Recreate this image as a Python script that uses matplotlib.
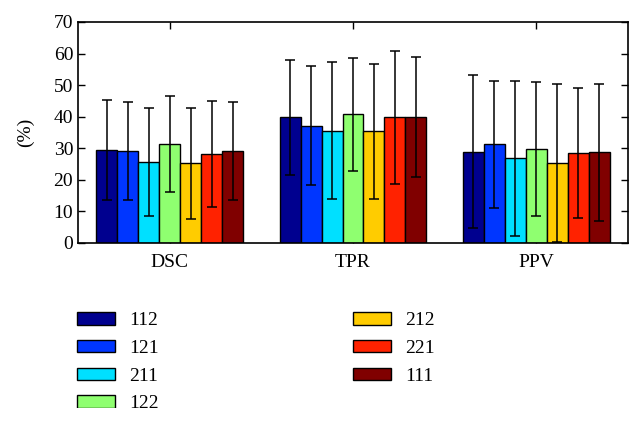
import numpy as np
import matplotlib
matplotlib.use('Agg')
import matplotlib.pyplot as plt
from matplotlib.patches import Rectangle

plt.rcParams['font.family'] = ['Liberation Serif', 'DejaVu Serif']

metrics = ['DSC', 'TPR', 'PPV']
configs = ['112', '121', '211', '122', '212', '221', '111']
colors = ['#00008F', '#0036FF', '#00E0FF', '#8FFF70', '#FFCC00', '#FF2200', '#800000']

# mean values (%) per config, in order DSC, TPR, PPV
means = {
    '112': [29.4, 39.8, 28.9],
    '121': [29.0, 37.2, 31.2],
    '211': [25.6, 35.6, 26.8],
    '122': [31.5, 40.7, 29.7],
    '212': [25.2, 35.4, 25.3],
    '221': [28.2, 39.8, 28.4],
    '111': [29.0, 39.8, 28.7],
}
# standard deviations (%)
stds = {
    '112': [15.8, 18.2, 24.2],
    '121': [15.5, 18.8, 20.1],
    '211': [17.1, 21.7, 24.5],
    '122': [15.2, 17.9, 21.3],
    '212': [17.5, 21.4, 25.0],
    '221': [16.7, 21.1, 20.6],
    '111': [15.5, 19.0, 21.8],
}

fig = plt.figure(figsize=(6.43, 4.22), dpi=100)
ax = fig.add_axes([0.1213, 0.4242, 0.8554, 0.5237])

x = np.arange(1, len(metrics) + 1)
n = len(configs)
group_w = 0.8
w = group_w / n

for i, c in enumerate(configs):
    pos = x - group_w / 2 + w * (i + 0.5)
    ax.bar(pos, means[c], width=w, color=colors[i], edgecolor='black',
           linewidth=1.0, label=c, zorder=2)
    ax.errorbar(pos, means[c], yerr=stds[c], fmt='none', ecolor='black',
                elinewidth=1.1, capsize=3.5, capthick=1.1, zorder=3)

ax.set_xlim(0.5, 3.5)
ax.set_ylim(0, 70)
ax.set_yticks(range(0, 71, 10))
ax.set_xticks(x)
ax.set_xticklabels(metrics)
ax.tick_params(direction='in', length=5, labelsize=14, top=True, right=True,
               width=1.0)
ax.tick_params(axis='x', pad=8)
ax.set_ylabel('(%)', fontsize=14, labelpad=14)
for s in ax.spines.values():
    s.set_linewidth(1.2)

leg = fig.legend(ncol=2, loc='upper left', bbox_to_anchor=(0.105, 0.283),
                 frameon=False, fontsize=14, handlelength=1.95,
                 handleheight=0.6, handletextpad=0.72, labelspacing=0.55,
                 columnspacing=10.0, borderpad=0.0)

# bottom edge of the picture crops the last legend row
fig.patches.append(Rectangle((0, 0), 1, 14 / 422, transform=fig.transFigure,
                             facecolor='white', edgecolor='none', zorder=10))

fig.savefig('out.png', dpi=100)
